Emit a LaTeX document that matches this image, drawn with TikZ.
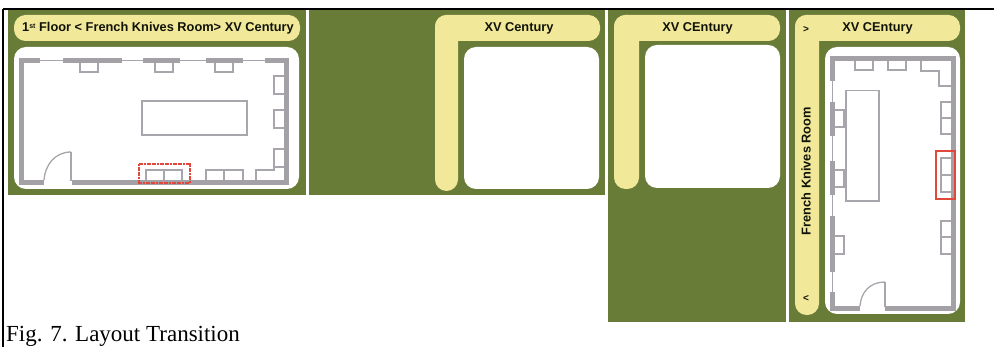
\documentclass[tikz,border=0pt]{standalone}
\usepackage{fontspec}
\setmainfont{Liberation Serif}
\newfontfamily\lab{Liberation Sans}
\definecolor{grn}{HTML}{687C38}
\definecolor{yel}{HTML}{F2E89A}
\definecolor{wal}{HTML}{A3A1A6}
\definecolor{fur}{HTML}{A8A6AC}
\definecolor{redb}{HTML}{E0483C}
\tikzset{x=1pt,y=-1pt,
 panel/.style={fill=grn,draw=none},
 band/.style={fill=yel,draw=none,rounded corners=11.5pt},
 room/.style={fill=white,draw=none,rounded corners=12pt},
 wallw/.style={draw=wal,line width=5pt,line cap=butt},
 thinl/.style={draw=fur,line width=0.7pt},
 furn/.style={draw=fur,line width=1.3pt},
 sel/.style={draw=redb,line width=2pt},
 lbl/.style={font=\lab\bfseries\fontsize{12.8}{14}\selectfont,text=black!85!grn,inner sep=0pt}}
\begin{document}
\begin{tikzpicture}
\useasboundingbox (0,0) rectangle (994,347);
\fill[white] (0,0) rectangle (994,347);
% frame
\draw[black,line width=2pt] (3.2,9.3) -- (994,9.3);
\draw[black,line width=2pt] (3.2,9.3) -- (3.2,347);
% panels
\fill[panel] (8,10.3) rectangle (306,195);
\fill[panel] (309,10.3) rectangle (605,195);
\fill[panel] (608,10.3) rectangle (786,322);
\fill[panel] (789,10.3) rectangle (965,322);
% panel 1
\fill[band] (14,15) rectangle (300,41);
\fill[room] (14,47) rectangle (299,189);
\node[lbl] (t1) at (158,28) {1\raisebox{3pt}{\fontsize{7}{7}\selectfont st} Floor < French Knives Room> XV Century};
% plan 1
\draw[thinl] (22,60.5) -- (286,60.5);
\draw[wallw] (40,60.5) -| (21.5,182.5) -- (44,182.5);
\draw[wallw] (72,182.5) -- (286.5,182.5) -- (286.5,60.5) -- (265,60.5);
\draw[wallw] (63,60.5) -- (122,60.5);
\draw[wallw] (143,60.5) -- (180,60.5);
\draw[wallw] (206,60.5) -- (243,60.5);
\draw[furn] (80,63) |- (98,72) -- (98,63);
\draw[furn] (155,63) |- (173,72) -- (173,63);
\draw[furn] (215,63) |- (233,72) -- (233,63);
\draw[furn] (284,76) -| (274,94) -- (284,94);
\draw[furn] (284,110) -| (274,128) -- (284,128);
\draw[furn] (284,149) -| (274,170) -- (256,170) -- (256,180);
\draw[furn] (274,167) -- (284,167);
\draw[furn] (142,101) rectangle (247,135);
\draw[furn] (146,180) |- (182,170) -- (182,180);
\draw[furn] (164,170) -- (164,180);
\draw[furn] (206,180) |- (243,170) -- (243,180);
\draw[furn] (224,170) -- (224,180);
\draw[sel,dash pattern=on 2pt off 0.6pt] (138.5,164) rectangle (189.5,183);
\draw[furn] (71,152) -- (71,181);
\draw[furn] (44,180) .. controls (45,165) and (55,152) .. (71,152);
% panel 2
\fill[band] (435,15) rectangle (458,191);
\fill[band] (435,15) rectangle (600,41);
\fill[room] (464,47) rectangle (599,189);
\node[lbl] (t2) at (519,28) {XV Century};
% panel 3
\fill[band] (614,15) rectangle (639,189);
\fill[band] (614,15) rectangle (780,41);
\fill[room] (645,45) rectangle (780,188);
\node[lbl] (t3) at (697.5,28) {XV CEntury};
% panel 4
\fill[band] (795,15) rectangle (819,315);
\fill[band] (795,15) rectangle (960,41);
\fill[room] (825,47) rectangle (960,314);
\node[lbl] (t4) at (877.5,28) {XV CEntury};
\node[lbl,rotate=90] (t5) at (806,171) {French Knives Room};
\node[lbl,font=\lab\bfseries\fontsize{10}{11}\selectfont] (t6) at (806,30) {>};
\node[lbl,font=\lab\bfseries\fontsize{10}{11}\selectfont] (t7) at (806,299) {<};
% plan 4
\draw[thinl] (832,60) -- (832,310);
\draw[wallw] (832,81) -- (832,59) -- (953.5,59) -- (953.5,309) -- (885,309);
\draw[wallw] (860,309) -- (832,309) -- (832,292);
\draw[wallw] (832,102) -- (832,136);
\draw[wallw] (832,161) -- (832,195);
\draw[wallw] (832,216) -- (832,272);
\draw[furn] (835,110) -| (844,127) -- (835,127);
\draw[furn] (835,170) -| (844,187) -- (835,187);
\draw[furn] (835,236) -| (844,254) -- (835,254);
\draw[furn] (855,61) |- (873,70) -- (873,61);
\draw[furn] (888,61) |- (906,70) -- (906,61);
\draw[furn] (921,61) |- (939,71) |- (951,86);
\draw[furn] (951,102) -| (941,134) -- (951,134);
\draw[furn] (941,118) -- (951,118);
\draw[furn] (951,158) -| (941,192) -- (951,192);
\draw[furn] (941,175) -- (951,175);
\draw[furn] (951,221) -| (941,254) -- (951,254);
\draw[furn] (941,237) -- (951,237);
\draw[furn] (846,90.5) rectangle (879,201);
\draw[furn] (885,282) -- (885,307);
\draw[furn] (860,306) .. controls (861,292) and (870,282) .. (885,282);
\draw[sel] (935.5,151) -- (954.5,151) -- (954.5,199.5) -- (935.5,199.5) -- cycle;
% caption
\node[anchor=base west,inner sep=0pt,font=\fontsize{23}{25}\selectfont] (cap) at (6,341.5) {Fig. 7. Layout Transition};
\end{tikzpicture}
\end{document}
